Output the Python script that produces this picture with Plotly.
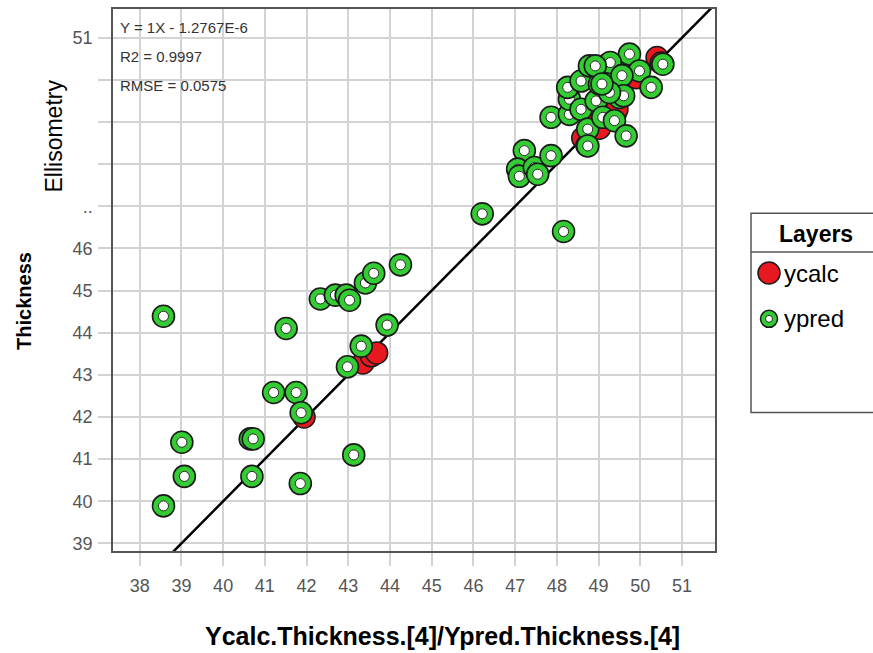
import plotly.graph_objects as go

# ---------------- data ----------------
ycalc_x = [41.94, 43.35, 43.55, 43.68, 48.62, 48.72, 48.88, 49.02, 49.40, 49.44, 49.90, 50.40, 50.50]
ycalc_y = [42.00, 43.28, 43.45, 43.52, 48.62, 48.44, 48.95, 48.85, 49.20, 49.30, 50.05, 50.53, 50.40]

ypred_x = [38.57, 41.51, 42.33, 42.69, 42.95, 43.03, 43.41, 43.61, 44.25, 43.93, 43.31, 42.98,
           41.21, 41.75, 41.87, 39.01, 40.65, 40.72, 39.07, 40.69, 41.85, 43.13, 38.57,
           46.21, 48.16,
           47.22, 47.06, 47.10, 47.46, 47.54, 47.86, 47.86, 48.30, 48.30, 48.26, 48.58, 48.58,
           48.74, 48.74, 48.78, 48.94, 49.02, 49.10, 49.22, 49.38, 49.42, 49.38, 49.50, 49.66,
           49.74, 49.98, 50.26, 50.54, 49.28, 49.56, 49.60, 48.92, 49.26, 49.08]
ypred_y = [44.39, 44.10, 44.80, 44.89, 44.89, 44.77, 45.18, 45.41, 45.61, 44.18, 43.68, 43.19,
           42.58, 42.58, 42.10, 41.40, 41.48, 41.48, 40.59, 40.59, 40.42, 41.10, 39.89,
           46.82, 46.40,
           48.32, 47.88, 47.71, 47.92, 47.76, 48.20, 49.11, 49.18, 49.54, 49.82, 49.97, 49.30,
           48.83, 48.43, 50.33, 49.50, 49.90, 49.11, 50.37, 50.29, 50.01, 49.03, 49.58, 48.67,
           50.61, 50.21, 49.82, 50.37, 50.41, 50.10, 49.62, 50.33, 49.70, 49.90]

fit_slope = 1.0
fit_intercept = -1.2767e-6
stats_lines = ["Y = 1X - 1.2767E-6", "R2 = 0.9997", "RMSE = 0.0575"]

x_ticks = list(range(38, 52))
y_ticks = list(range(39, 52))
y_ticktext = ["39", "40", "41", "42", "43", "44", "45", "46", "..", "", "", "", "51"]

x_range = [37.36, 51.79]
y_range = [38.82, 51.68]

legend_title = "Layers"
series_names = ["ycalc", "ypred"]

GREEN = "#33cc33"
RED = "#e8191e"
EDGE = "#1a1a1a"
GRID = "#d3d3d3"
TICKC = "#555555"
FONT = "Liberation Sans"

fig = go.Figure()

# fit line across axis range
lx = [x_range[0] - 1, x_range[1] + 1]
ly = [fit_slope * v + fit_intercept for v in lx]
fig.add_trace(go.Scatter(x=lx, y=ly, mode="lines", line=dict(color="black", width=2.5),
                         showlegend=False, hoverinfo="skip"))

# ycalc (red discs) drawn beneath
fig.add_trace(go.Scatter(x=ycalc_x, y=ycalc_y, mode="markers", name=series_names[0],
                         marker=dict(size=22, color=RED, opacity=1, line=dict(color=EDGE, width=1.5)),
                         showlegend=False))

# ypred rings: interleave disc + hole for each point so later rings cover earlier ones
gx, gy, gs, gc, gw, glc = [], [], [], [], [], []
for xv, yv in zip(ypred_x, ypred_y):
    gx += [xv, xv]
    gy += [yv, yv]
    gs += [22, 10]
    gc += [GREEN, "white"]
    gw += [1.6, 1.0]
    glc += [EDGE, "#2a2a2a"]
fig.add_trace(go.Scatter(x=gx, y=gy, mode="markers", name=series_names[1],
                         marker=dict(size=gs, color=gc, opacity=1, line=dict(color=glc, width=gw)),
                         showlegend=False))

# stats text
for i, t in enumerate(stats_lines):
    fig.add_annotation(xref="paper", yref="paper", x=0.008, y=[0.965, 0.912, 0.8585][i],
                       xanchor="left", yanchor="middle", text=t, showarrow=False,
                       font=dict(family=FONT, size=15, color="#333333"))

# axis titles
fig.add_annotation(xref="paper", yref="paper", x=(442 - 113) / 602, y=(551 - 636) / 544,
                   text="<b>Ycalc.Thickness.[4]/Ypred.Thickness.[4]</b>", showarrow=False,
                   xanchor="center", yanchor="middle", font=dict(family=FONT, size=25, color="black"))
fig.add_annotation(xref="paper", yref="paper", x=(24 - 113) / 602, y=(551 - 300) / 544,
                   text="<b>Thickness</b>", showarrow=False, textangle=-90,
                   xanchor="center", yanchor="middle", font=dict(family=FONT, size=20, color="black"))
fig.add_annotation(xref="paper", yref="paper", x=(54 - 113) / 602, y=(551 - 135) / 544,
                   text="Ellisometry", showarrow=False, textangle=-90,
                   xanchor="center", yanchor="middle", font=dict(family=FONT, size=23, color="black"))

# manual legend box
def px2x(p):
    return (p - 113) / 602

def py2y(p):
    return (551 - p) / 544

shapes = [
    dict(type="rect", xref="paper", yref="paper", x0=px2x(751), x1=px2x(900),
         y0=py2y(412), y1=py2y(212), line=dict(color="#555555", width=1.5), fillcolor="white"),
    dict(type="line", xref="paper", yref="paper", x0=px2x(751), x1=px2x(900),
         y0=py2y(251), y1=py2y(251), line=dict(color="#555555", width=1.5)),
    dict(type="circle", xref="paper", yref="paper", xsizemode="pixel", ysizemode="pixel",
         xanchor=px2x(769), yanchor=py2y(272), x0=-11, x1=11, y0=-11, y1=11,
         fillcolor=RED, line=dict(color=EDGE, width=1.5)),
    dict(type="circle", xref="paper", yref="paper", xsizemode="pixel", ysizemode="pixel",
         xanchor=px2x(769), yanchor=py2y(318), x0=-8.5, x1=8.5, y0=-8.5, y1=8.5,
         fillcolor=GREEN, line=dict(color=EDGE, width=1.5)),
    dict(type="circle", xref="paper", yref="paper", xsizemode="pixel", ysizemode="pixel",
         xanchor=px2x(769), yanchor=py2y(318), x0=-3.5, x1=3.5, y0=-3.5, y1=3.5,
         fillcolor="white", line=dict(color="#2a2a2a", width=1)),
]
fig.add_annotation(xref="paper", yref="paper", x=px2x(816), y=py2y(233), text="<b>" + legend_title + "</b>",
                   showarrow=False, xanchor="center", yanchor="middle",
                   font=dict(family=FONT, size=23, color="black"))
for name, ypix in zip(series_names, [272, 318]):
    fig.add_annotation(xref="paper", yref="paper", x=px2x(782), y=py2y(ypix), text=name,
                       showarrow=False, xanchor="left", yanchor="middle",
                       font=dict(family=FONT, size=24, color="black"))

fig.update_layout(
    width=873, height=653,
    margin=dict(l=113, r=158, t=7, b=102),
    paper_bgcolor="white", plot_bgcolor="white",
    shapes=shapes,
    font=dict(family=FONT),
    showlegend=False,
)
fig.update_xaxes(range=x_range, tickvals=x_ticks, ticktext=[str(v) for v in x_ticks],
                 showgrid=True, gridcolor=GRID, gridwidth=1.5,
                 ticks="outside", ticklen=13, tickcolor=GRID, tickwidth=1.5,
                 tickfont=dict(family=FONT, size=18, color=TICKC),
                 showline=True, linecolor="#555555", linewidth=1.5, mirror=True,
                 zeroline=False, ticklabelstandoff=5)
fig.update_yaxes(range=y_range, tickvals=y_ticks, ticktext=y_ticktext,
                 showgrid=True, gridcolor=GRID, gridwidth=1.5,
                 ticks="outside", ticklen=13, tickcolor=GRID, tickwidth=1.5,
                 tickfont=dict(family=FONT, size=18, color=TICKC),
                 showline=True, linecolor="#555555", linewidth=1.5, mirror=True,
                 zeroline=False, ticklabelstandoff=2)

fig.write_html("out.html")
